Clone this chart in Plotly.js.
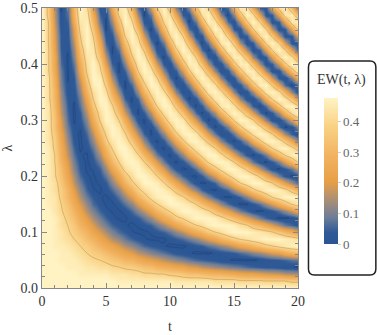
<!DOCTYPE html>
<html><head><meta charset="utf-8">
<script src="https://cdn.plot.ly/plotly-3.0.1.min.js"></script>
<style>html,body{margin:0;padding:0;background:#fff}</style></head>
<body><div id="chart" style="width:377px;height:335px"></div>
<script>
const tValues=[0,0.5,1,1.5,2,2.5,3,3.5,4,4.5,5,5.5,6,6.5,7,7.5,8,8.5,9,9.5,10,10.5,11,11.5,12,12.5,13,13.5,14,14.5,15,15.5,16,16.5,17,17.5,18,18.5,19,19.5,20];
const lambdaValues=[0,0.0125,0.025,0.0375,0.05,0.0625,0.075,0.0875,0.1,0.1125,0.125,0.1375,0.15,0.1625,0.175,0.1875,0.2,0.2125,0.225,0.2375,0.25,0.2625,0.275,0.2875,0.3,0.3125,0.325,0.3375,0.35,0.3625,0.375,0.3875,0.4,0.4125,0.425,0.4375,0.45,0.4625,0.475,0.4875,0.5];
// EW(t, lambda) in hundredths; one row per lambda
const ewHundredths=[
[48,48,48,48,48,48,48,48,48,48,48,48,48,48,48,48,48,48,48,48,48,48,48,48,48,48,48,48,48,48,48,48,48,48,48,48,48,48,48,48,48],
[48,48,48,48,48,48,48,48,48,48,48,48,46,46,46,46,46,46,46,46,46,44,44,44,44,44,44,42,42,42,42,40,40,40,40,39,39,39,39,37,37],
[48,48,48,48,48,48,46,46,46,46,46,44,44,44,42,42,40,40,39,39,37,37,35,33,33,32,30,29,29,27,26,24,23,23,21,20,19,18,16,15,14],
[48,48,48,48,46,46,46,44,44,42,42,40,39,37,37,35,33,32,29,27,26,24,23,20,19,16,15,13,12,10,9,8,6,5,4,3,3,2,1,1,0],
[48,48,48,46,46,46,44,42,40,39,37,35,33,30,29,26,23,21,19,16,14,12,10,8,6,5,4,3,1,1,0,0,0,0,1,2,3,4,5,7,8],
[48,48,48,46,46,44,42,39,37,35,32,29,26,23,20,16,14,11,9,7,5,3,2,1,0,0,0,1,2,3,4,6,8,11,13,16,19,21,26,29,30],
[48,48,46,46,44,42,39,37,33,29,26,23,19,15,12,9,6,4,3,1,0,0,0,1,3,4,7,9,12,15,19,23,26,30,33,37,39,42,44,46,48],
[48,48,46,44,42,39,37,32,29,24,20,15,12,8,5,3,1,0,0,0,2,4,6,9,12,16,20,24,29,33,37,40,42,44,46,48,48,48,46,44,42],
[48,48,46,44,40,37,33,29,23,19,14,10,6,4,1,0,0,1,3,5,8,12,16,21,26,30,35,39,42,46,48,48,48,46,44,42,39,35,30,26,20],
[48,48,46,42,39,35,29,24,19,13,9,5,3,1,0,1,3,5,9,14,19,24,30,35,39,42,46,48,48,48,46,42,39,33,29,24,19,13,8,5,2],
[48,48,46,42,37,32,26,20,14,9,5,2,0,0,2,4,8,13,19,26,30,37,40,44,48,48,48,46,42,37,32,27,20,15,9,5,2,0,0,1,4],
[48,48,44,40,35,29,23,15,10,5,2,0,0,2,6,11,16,23,30,35,40,44,48,48,46,44,40,33,27,21,15,9,5,1,0,1,3,7,12,18,24],
[48,46,44,39,33,26,19,12,6,3,0,0,3,7,12,19,26,33,39,44,48,48,46,44,39,32,26,19,12,6,2,0,0,3,7,13,19,27,33,40,44],
[48,46,44,37,30,23,15,8,4,1,0,2,7,13,20,29,35,42,46,48,48,44,40,33,26,18,11,5,1,0,1,5,11,18,26,33,40,44,48,48,46],
[48,46,42,37,29,20,12,5,1,0,2,6,12,20,29,37,42,46,48,46,42,35,27,19,12,5,1,0,2,6,13,20,29,37,42,46,48,46,42,35,27],
[48,46,42,35,26,16,9,3,0,1,4,11,19,29,37,42,48,48,46,40,32,24,15,8,2,0,1,5,13,21,30,39,44,48,48,44,39,30,21,13,6],
[48,46,40,33,23,14,6,1,0,3,8,16,26,35,42,48,48,44,39,30,20,12,5,1,0,4,11,19,29,37,44,48,48,44,37,27,18,9,3,0,1],
[48,46,40,32,21,11,4,0,1,5,13,23,33,42,46,48,44,39,29,19,9,3,0,1,7,15,26,35,42,48,48,44,37,27,16,8,2,0,3,8,18],
[48,46,39,29,19,9,3,0,3,9,19,30,39,46,48,46,39,29,19,8,2,0,3,9,19,30,40,46,48,46,39,29,18,8,2,0,3,10,20,30,40],
[48,46,39,27,16,7,1,0,5,14,26,35,44,48,46,40,30,19,8,2,0,4,12,23,33,42,48,48,42,33,21,11,3,0,3,9,20,32,40,46,48],
[48,46,37,26,14,5,0,2,8,19,30,40,48,48,42,32,20,9,2,0,4,13,24,35,44,48,46,39,27,15,6,1,1,8,18,29,40,46,48,42,33],
[48,44,37,24,12,3,0,4,12,24,37,44,48,44,35,24,12,3,0,4,13,24,37,46,48,44,35,23,11,3,0,4,13,26,37,46,48,44,35,23,11],
[48,44,35,23,10,2,0,6,16,30,40,48,46,40,27,15,5,0,3,12,24,37,46,48,44,33,20,8,1,1,8,19,32,42,48,46,39,26,13,4,0],
[48,44,33,20,8,1,1,9,21,35,44,48,44,33,19,8,1,1,9,23,35,46,48,42,32,19,7,0,2,10,23,37,46,48,42,32,18,6,0,2,11],
[48,44,33,19,6,0,3,12,26,39,48,46,39,26,12,2,0,7,19,33,44,48,44,32,18,6,0,3,13,27,40,48,46,39,24,11,2,1,8,20,35],
[48,44,32,16,5,0,4,16,30,42,48,44,32,18,5,0,4,15,30,42,48,44,33,19,6,0,4,14,29,42,48,44,33,19,6,0,3,14,29,42,48],
[48,44,30,15,4,0,7,20,35,46,48,40,26,11,1,1,11,26,40,48,46,35,20,7,0,4,15,30,44,48,42,30,15,4,0,7,20,35,46,48,40],
[48,42,29,13,3,1,9,24,39,48,46,33,19,5,0,5,19,35,46,48,39,23,8,0,3,14,30,44,48,42,29,12,2,1,10,26,40,48,44,33,18],
[48,42,29,12,1,2,12,29,42,48,42,27,12,1,2,13,29,42,48,42,27,11,1,2,13,29,44,48,42,27,11,1,2,13,30,44,48,42,27,11,1],
[48,42,27,10,1,3,15,33,46,48,37,21,6,0,6,21,37,48,46,33,15,3,1,10,27,42,48,42,27,10,1,3,15,33,46,48,37,21,6,0,6],
[48,42,26,9,0,4,19,37,48,46,32,15,2,1,13,30,44,48,39,21,6,0,8,23,40,48,42,29,11,1,3,16,35,46,46,35,18,3,1,11,27],
[48,40,24,8,0,6,23,40,48,42,27,9,0,5,20,39,48,44,29,11,1,4,19,37,48,44,30,12,1,3,16,35,46,46,32,14,2,2,15,33,46],
[48,40,23,6,0,8,26,42,48,39,20,5,0,11,29,44,48,37,18,3,1,13,32,46,46,33,15,2,2,15,35,46,46,32,13,1,4,19,37,48,44],
[48,40,23,5,0,11,30,44,46,33,15,1,3,18,37,48,44,27,8,0,8,26,42,48,39,19,4,1,13,33,46,46,32,12,1,4,20,39,48,42,24],
[48,40,21,4,1,13,33,46,44,29,9,0,7,26,42,48,37,16,2,3,18,37,48,42,24,6,0,10,30,46,46,32,13,1,5,21,40,48,39,20,4],
[48,39,20,3,2,16,37,48,42,24,5,1,13,33,46,44,27,8,0,9,29,46,46,32,11,0,7,26,44,48,35,14,1,4,21,40,48,39,18,2,3],
[48,39,19,3,3,19,39,48,39,19,2,3,19,40,48,39,18,2,3,20,40,48,39,18,2,3,20,40,48,37,18,2,4,20,40,48,37,16,2,4,21],
[48,39,18,2,4,21,42,48,35,13,0,7,27,44,46,30,9,0,10,32,46,44,26,6,1,14,35,48,42,21,3,2,19,39,48,39,16,1,4,23,42],
[48,39,16,1,5,26,44,46,30,8,0,12,33,48,42,21,3,3,20,40,48,35,13,0,8,29,46,44,27,6,1,15,37,48,39,18,2,4,23,44,46],
[48,37,15,1,7,29,46,44,26,5,1,18,40,48,35,13,0,8,30,46,42,23,4,2,20,42,48,33,11,0,11,33,48,42,20,2,4,23,44,46,30],
[48,37,14,0,8,30,48,42,20,2,4,24,44,46,27,6,1,18,40,48,33,11,0,11,35,48,40,18,1,6,27,46,44,24,4,3,21,42,46,30,8]
];
const xTicks=[0,5,10,15,20];
const yTicks=[0,0.1,0.2,0.3,0.4,0.5];
const yTickText=['0.0','0.1','0.2','0.3','0.4','0.5'];
const barTicks=[0,0.1,0.2,0.3,0.4];
const barTickText=['0','0.1','0.2','0.3','0.4'];
const contourHigh=0.39, contourLow=0.006;

const z=ewHundredths.map(r=>r.map(v=>v/100));
const SERIF='"Liberation Serif", serif';
const L=41.5,R=298,T=8,B=288;
const px=v=>(v-L)/(R-L), py=v=>(B-v)/(B-T);
const colors=[[0,'#2a5594'],[0.08,'#2f5a96'],[0.18,'#6c7d98'],[0.29,'#a48d7b'],[0.43,'#e8a046'],[0.6,'#f1b260'],[0.82,'#fad488'],[1,'#fff3c4']];

const axisBase={showgrid:false,zeroline:false,showline:true,linecolor:'#888',linewidth:1.2,mirror:'ticks',ticks:'inside',ticklen:5,tickcolor:'#888',
 tickfont:{family:SERIF,size:14,color:'#333'},layer:'above traces'};
const traces=[
 {type:'heatmap',x:tValues,y:lambdaValues,z:z,zmin:0,zmax:0.477,zsmooth:'best',colorscale:colors,hoverinfo:'skip',
  colorbar:{x:px(324),xanchor:'left',xpad:0,y:py(171),yanchor:'middle',ypad:0,thickness:14,thicknessmode:'pixels',len:146,lenmode:'pixels',
   outlinewidth:0,tickmode:'array',tickvals:barTicks,ticktext:barTickText,ticks:'outside',ticklen:3,tickcolor:'#ccc',
   tickfont:{family:SERIF,size:13,color:'#666'}}},
 {type:'contour',x:tValues,y:lambdaValues,z:z,showscale:false,hoverinfo:'skip',autocontour:false,
  contours:{coloring:'none',start:contourHigh,end:contourHigh,size:1},line:{color:'rgba(165,130,85,0.7)',width:0.6,smoothing:1}},
 {type:'contour',x:tValues,y:lambdaValues,z:z,showscale:false,hoverinfo:'skip',autocontour:false,
  contours:{coloring:'none',start:contourLow,end:contourLow,size:1},line:{color:'rgba(25,55,105,0.6)',width:0.6,smoothing:0.6}}
];
const bx0=px(308.5),bx1=px(376),by0=py(61),by1=py(275),rx=6/(R-L),ry=6/(B-T);
const layout={width:377,height:335,margin:{l:L,r:377-R,t:T,b:335-B,pad:0},paper_bgcolor:'#fff',plot_bgcolor:'#fff',showlegend:false,
 xaxis:Object.assign({},axisBase,{range:[0,20],tickmode:'array',tickvals:xTicks,title:{text:'t',font:{family:SERIF,size:14,color:'#333'},standoff:13},
  minor:{dtick:1,ticks:'inside',ticklen:3,tickcolor:'#888'}}),
 yaxis:Object.assign({},axisBase,{range:[0,0.5],tickmode:'array',tickvals:yTicks,ticktext:yTickText,title:{text:'λ',font:{family:SERIF,size:14,color:'#333'},standoff:8},
  minor:{dtick:0.02,ticks:'inside',ticklen:3,tickcolor:'#888'}}),
 annotations:[{xref:'paper',yref:'paper',x:px(342),y:py(80),xanchor:'center',yanchor:'middle',text:'EW(t, λ)',showarrow:false,font:{family:SERIF,size:14,color:'#333'}}],
 shapes:[{type:'path',xref:'paper',yref:'paper',line:{color:'#222',width:1.5},
  path:`M ${bx0+rx} ${by0} L ${bx1-rx} ${by0} Q ${bx1} ${by0} ${bx1} ${by0-ry} L ${bx1} ${by1+ry} Q ${bx1} ${by1} ${bx1-rx} ${by1} L ${bx0+rx} ${by1} Q ${bx0} ${by1} ${bx0} ${by1+ry} L ${bx0} ${by0-ry} Q ${bx0} ${by0} ${bx0+rx} ${by0} Z`}]
};
Plotly.newPlot('chart',traces,layout,{displayModeBar:false,staticPlot:true});
</script></body></html>
